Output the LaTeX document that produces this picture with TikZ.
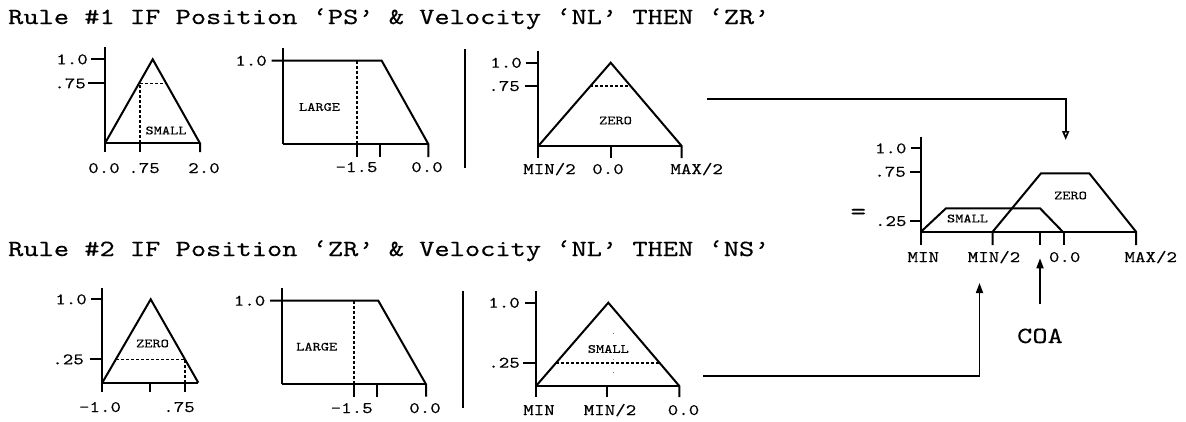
\documentclass[tikz,border=0pt]{standalone}
\usepackage{fontspec}
\usetikzlibrary{arrows.meta}
\newfontfamily\mono{lmmono10-regular}[Extension=.otf, FakeStretch=1.25, FakeBold=0.3]
\newcommand\myTitleFont{\mono\fontsize{23.2}{28}\selectfont}
\newcommand\myTicFont{\mono\fontsize{16}{19}\selectfont}
\newcommand\mySetFont{\mono\fontsize{12.5}{15}\selectfont}
\newcommand\myEqFont{\mono\fontsize{24}{28}\selectfont}
\begin{document}
\begin{tikzpicture}[x=1pt,y=-1pt,
  ln/.style={line width=2pt, line join=miter, line cap=butt},
  dashln/.style={line width=1.6pt, dash pattern=on 3pt off 2pt},
  conn/.style={line width=1.7pt},
  ylab/.style={anchor=east, inner sep=0pt, text depth=0pt, font=\myTicFont},
  xlab/.style={anchor=base, inner sep=0pt, font=\myTicFont},
  setlab/.style={inner sep=0pt, font=\mySetFont},
  titlelab/.style={anchor=base west, inner sep=0pt, font=\myTitleFont},
  uparrow/.style={conn, -{Triangle[length=10pt,width=7pt]}},
  downarrow/.style={conn, -{Triangle[open,length=9pt,width=7pt]}}]
\useasboundingbox (0,0) rectangle (1186,421);
\fill[white] (0,0) rectangle (1186,421);

% titles
\node[titlelab] (t1) at (8,24) {Rule \#1 IF Position ‘PS’ \& Velocity ‘NL’ THEN ‘ZR’};
\node[titlelab] (t2) at (8,256) {Rule \#2 IF Position ‘ZR’ \& Velocity ‘NL’ THEN ‘NS’};

% ---------- G1: position PS ----------
\draw[ln] (105,47) -- (105,152);
\draw[ln] (91,59.3) -- (105,59.3);
\draw[ln] (88,83.3) -- (105,83.3);
\draw[ln] (105,143.3) -- (200,143.3);
\draw[ln] (105,143.3) -- (152.7,59.3) -- (200,143.3) -- (200,152);
\draw[ln] (140,143.3) -- (140,152);
\draw[dashln] (140,143.3) -- (140,83.3) -- (166,83.3);
\node[ylab] (g1y1) at (88,59.3) {1.0};
\node[ylab] (g1y2) at (86,83.3) {.75};
\node[xlab] (g1x1) at (104,173) {0.0};
\node[xlab] (g1x2) at (144,173) {.75};
\node[xlab] (g1x3) at (204,173) {2.0};
\node[setlab] (g1s) at (166,130.5) {SMALL};

% ---------- G2: velocity NL (rule 1) ----------
\draw[ln] (283.3,48) -- (283.3,144);
\draw[ln] (271.7,60.7) -- (381.7,60.7) -- (428.3,144) -- (428.3,157);
\draw[ln] (283.3,144) -- (428.3,144);
\draw[ln] (356.7,144) -- (356.7,157);
\draw[ln] (380,144) -- (380,157);
\draw[dashln] (356.7,60.7) -- (356.7,144);
\node[ylab] (g2y1) at (267,60.7) {1.0};
\node[xlab] (g2x1) at (356.5,172) {-1.5};
\node[xlab] (g2x2) at (427,172) {0.0};
\node[setlab] (g2s) at (319.5,107) {LARGE};

\draw[ln] (465,49.3) -- (465,168.3);

% ---------- G3: output ZR ----------
\draw[ln] (538.3,50.7) -- (538.3,158);
\draw[ln] (526,62.7) -- (538.3,62.7);
\draw[ln] (525,86) -- (538.3,86);
\draw[ln] (538.3,146) -- (681.7,146);
\draw[ln] (538.3,146) -- (610.7,62.7) -- (681.7,146) -- (681.7,158);
\draw[ln] (610.7,146) -- (610.7,158);
\draw[dashln] (590,86) -- (630.7,86);
\node[ylab] (g3y1) at (522,62.7) {1.0};
\node[ylab] (g3y2) at (520,86) {.75};
\node[xlab] (g3x1) at (549.5,174) {MIN/2};
\node[xlab] (g3x2) at (608,174) {0.0};
\node[xlab] (g3x3) at (696.7,174) {MAX/2};
\node[setlab] (g3s) at (615.5,120.5) {ZERO};

% ---------- G4: position ZR ----------
\draw[ln] (102.3,288) -- (102.3,392);
\draw[ln] (90.7,299.3) -- (102.3,299.3);
\draw[ln] (90,359.3) -- (102.3,359.3);
\draw[ln] (102.3,382.7) -- (198.3,382.7);
\draw[ln] (102.3,382.7) -- (150.7,299.3) -- (198.3,382.7);
\draw[ln] (150,382.7) -- (150,392);
\draw[ln] (185,382.7) -- (185,392);
\draw[dashln] (116,359.3) -- (185,359.3) -- (185,382.7);
\node[ylab] (g4y1) at (87,299.3) {1.0};
\node[ylab] (g4y2) at (84,359.3) {.25};
\node[xlab] (g4x1) at (100,412) {-1.0};
\node[xlab] (g4x2) at (179,412) {.75};
\node[setlab] (g4s) at (152.5,343.5) {ZERO};

% ---------- G5: velocity NL (rule 2) ----------
\draw[ln] (281.7,288) -- (281.7,384.3);
\draw[ln] (270,300.7) -- (378.3,300.7) -- (426,384.3) -- (426,396.7);
\draw[ln] (281.7,384.3) -- (426,384.3);
\draw[ln] (354,384.3) -- (354,396.7);
\draw[ln] (376.7,384.3) -- (376.7,396.7);
\draw[dashln] (354,300.7) -- (354,384.3);
\node[ylab] (g5y1) at (265.5,300.7) {1.0};
\node[xlab] (g5x1) at (351.7,413) {-1.5};
\node[xlab] (g5x2) at (425,413) {0.0};
\node[setlab] (g5s) at (316.7,346.7) {LARGE};

\draw[ln] (463.3,290.7) -- (463.3,408.3);

% ---------- G6: output NS ----------
\draw[ln] (536,290.7) -- (536,397);
\draw[ln] (525,302.7) -- (536,302.7);
\draw[ln] (523,362.7) -- (536,362.7);
\draw[ln] (536,386) -- (679.3,386);
\draw[ln] (536,386) -- (608.3,302.7) -- (679.3,386) -- (679.3,397);
\draw[ln] (606.7,386) -- (606.7,397);
\draw[dashln] (556,362.7) -- (659.5,362.7);
\draw[gray, line width=1pt, dash pattern=on 1pt off 12pt] (613,333) -- (613,384);
\node[ylab] (g6y1) at (520,302.7) {1.0};
\node[ylab] (g6y2) at (520,362.7) {.25};
\node[xlab] (g6x1) at (539,415) {MIN};
\node[xlab] (g6x2) at (610,415) {MIN/2};
\node[xlab] (g6x3) at (683.5,415) {0.0};
\node[setlab] (g6s) at (608.3,349) {SMALL};

% ---------- G7: aggregated result ----------
\draw[ln] (920.7,136.7) -- (920.7,245);
\draw[ln] (910.7,148.3) -- (920.7,148.3);
\draw[ln] (910,171.7) -- (920.7,171.7);
\draw[ln] (910,221) -- (920.7,221);
\draw[ln] (920.7,231.7) -- (1136,231.7);
\draw[ln] (921,231.7) -- (946,208.3) -- (1040,208.3) -- (1062.7,231.7);
\draw[ln] (992.7,245) -- (992.7,231.7) -- (1041,173.3) -- (1089.3,173.3) -- (1136,231.7) -- (1136,245);
\draw[ln] (1040,231.7) -- (1040,245);
\draw[ln] (1064,231.7) -- (1064,245);
\node[ylab] (g7y1) at (906.7,148.3) {1.0};
\node[ylab] (g7y2) at (906,171.7) {.75};
\node[ylab] (g7y3) at (906.7,221) {.25};
\node[inner sep=0pt, font=\myEqFont] (eq) at (858.3,214) {=};
\node[xlab] (g7x1) at (923.3,262) {MIN};
\node[xlab] (g7x2) at (994,262) {MIN/2};
\node[xlab] (g7x3) at (1064.7,262) {0.0};
\node[xlab] (g7x4) at (1150.8,262) {MAX/2};
\node[setlab] (g7s1) at (967.5,218.5) {SMALL};
\node[setlab] (g7s2) at (1070.5,195.5) {ZERO};

% ---------- connectors ----------
\coordinate (c1s) at (706.7,99.3);
\coordinate (c1e) at (1065.7,140);
\draw[downarrow] (c1s) -| (c1e);
\coordinate (c2s) at (703,375.7);
\coordinate (c2e) at (979.5,283);
\draw[uparrow] (c2s) -| (c2e);

\node[titlelab, anchor=base] (coa) at (1040,343) {COA};
\coordinate (coas) at (1040,304.3);
\coordinate (coat) at (1040,258.3);
\draw[uparrow] (coas) -- (coat);
\end{tikzpicture}
\end{document}
